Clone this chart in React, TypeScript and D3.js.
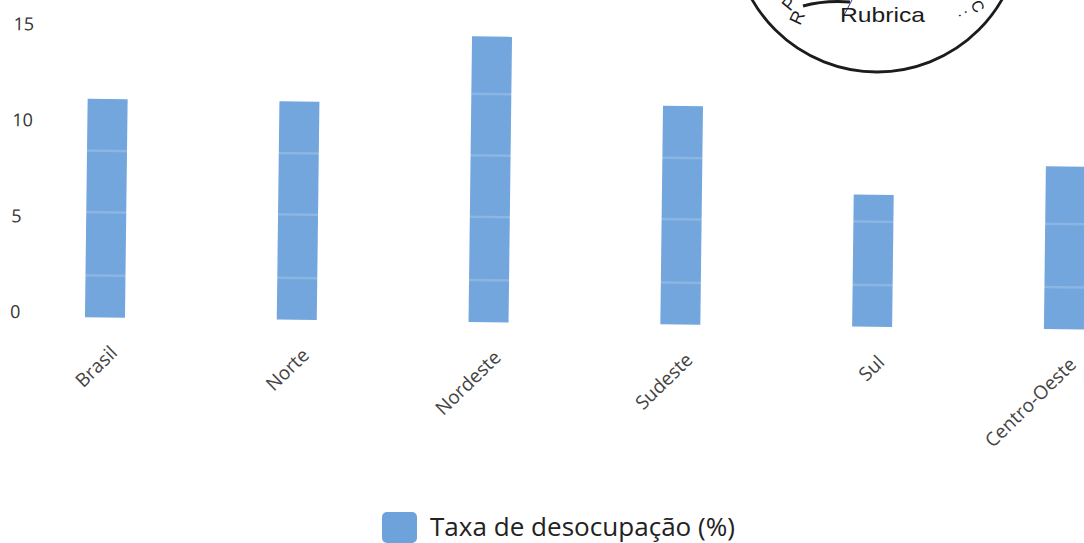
import React from "react";
import * as d3 from "d3";

const categories = ["Brasil", "Norte", "Nordeste", "Sudeste", "Sul", "Centro-Oeste"];
const values = [11.3, 11.3, 14.8, 11.3, 6.8, 8.4];
const yTicks = [0, 5, 10, 15];
const innerGrid = [2.1, 5.4, 8.6, 11.8];
const legendLabel = "Taxa de desocupação (%)";

const W = 1084;
const H = 543;
const Y0 = 314.7;
const PX_PER_UNIT = 19.2;

export default function App() {
  const x = d3.scalePoint<string>().domain(categories).range([105, 1064]);
  const y = d3.scaleLinear().domain([0, 15]).range([Y0, Y0 - 15 * PX_PER_UNIT]);
  const barW = 40;
  const barColor = "#72a6dd";

  return (
    <svg
      width={W}
      height={H}
      style={{ position: "absolute", left: 0, top: 0, background: "#fff" }}
      fontFamily="'Open Sans', sans-serif"
    >
      <g transform={`rotate(0.7, 0, ${Y0})`}>
        {yTicks.map((t) => (
          <text key={t} x={10} y={y(t) - 3} dy="0.35em" fontSize={18} fill="#333">
            {t}
          </text>
        ))}
        {categories.map((c, i) => (
          <rect
            key={c}
            x={(x(c) as number) - barW / 2}
            y={y(values[i])}
            width={barW}
            height={y(0) - y(values[i]) + 1.5}
            fill={barColor}
          />
        ))}
        {innerGrid.map((g) => (
          <line
            key={g}
            x1={60}
            x2={1100}
            y1={y(g)}
            y2={y(g)}
            stroke="#ffffff"
            strokeOpacity={0.18}
            strokeWidth={2.5}
          />
        ))}
        {categories.map((c) => (
          <text
            key={c}
            transform={`translate(${(x(c) as number) + 14}, ${Y0 + 38}) rotate(-45)`}
            textAnchor="end"
            fontSize={19}
            fill="#444"
          >
            {c}
          </text>
        ))}
      </g>

      {/* legend */}
      <rect x={382} y={512} width={35} height={31} rx={5} fill="#6ea2da" />
      <text
        x={430}
        y={536}
        fontSize={26}
        fill="#222"
        textLength={305}
        lengthAdjust="spacingAndGlyphs"
      >
        {legendLabel}
      </text>

      {/* scanned stamp */}
      <g fill="none" stroke="#1c1c1c">
        <circle cx={877} cy={-72} r={144} strokeWidth={2.8} />
        <path d="M 803 6 Q 825 0 850 2" strokeWidth={3} />
        <line x1={852} y1={0} x2={843} y2={17} stroke="#3a3a8a" strokeWidth={1} />
      </g>
      <g fontFamily="Arial, 'Liberation Sans', sans-serif" fill="#1c1c1c">
        <text x={840} y={22} fontSize={21} textLength={85} lengthAdjust="spacingAndGlyphs">
          Rubrica
        </text>
        <text transform="translate(800, 26) rotate(-65)" fontSize={18}>R</text>
        <text transform="translate(790, 12) rotate(-50)" fontSize={18}>P</text>
        <text transform="translate(958, 14) rotate(60)" fontSize={16}>:</text>
        <text transform="translate(970, 4) rotate(60)" fontSize={16}>C</text>
      </g>
    </svg>
  );
}
